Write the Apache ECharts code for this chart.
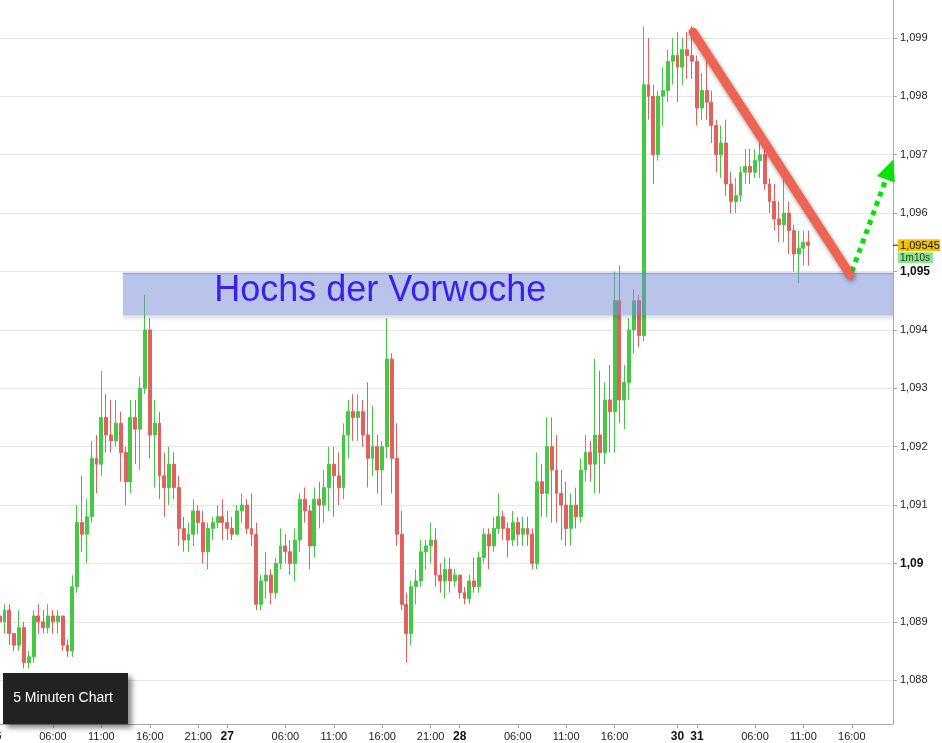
<!DOCTYPE html>
<html>
<head>
<meta charset="utf-8">
<script src="https://cdn.jsdelivr.net/npm/echarts@6/dist/echarts.min.js"></script>
<style>
html,body{margin:0;padding:0;background:#ffffff;}
#chart{width:942px;height:743px;}
</style>
</head>
<body>
<div id="chart"></div>
<script>
// 30-minute candles [open, close, low, high]
const day26 = [
[1.0890,1.0891,1.0888,1.0893],[1.0891,1.0890,1.0888,1.0893],[1.0890,1.0892,1.0888,1.0893],[1.0892,1.0888,1.0886,1.0893],
[1.0888,1.0886,1.0885,1.0888],[1.0886,1.0889,1.0885,1.0892],[1.0889,1.0883,1.0882,1.0890],[1.0883,1.0884,1.0882,1.0885],
[1.0884,1.0891,1.0883,1.0892],[1.0891,1.0890,1.0888,1.0893],[1.0890,1.0889,1.0888,1.0892],[1.0889,1.0891,1.0888,1.0893],
[1.0891,1.0890,1.0888,1.0892],[1.0890,1.0891,1.0888,1.0892],[1.0891,1.0886,1.0885,1.0891],[1.0886,1.0885,1.0884,1.0887],
[1.0885,1.0896,1.0884,1.0898],[1.0896,1.0907,1.0895,1.0910],[1.0907,1.0905,1.0902,1.0915],[1.0905,1.0908,1.0900,1.0911],
[1.0908,1.0918,1.0907,1.0921],[1.0918,1.0917,1.0912,1.0922],[1.0917,1.0925,1.0915,1.0933],[1.0925,1.0922,1.0919,1.0929],
[1.0922,1.0921,1.0919,1.0928],[1.0921,1.0924,1.0920,1.0928],[1.0924,1.0919,1.0914,1.0926],[1.0919,1.0914,1.0910,1.0920],
[1.0914,1.0925,1.0912,1.0928],[1.0925,1.0923,1.0917,1.0928],[1.0923,1.0930,1.0916,1.0932],[1.0930,1.0940,1.0929,1.0946],
[1.0940,1.0922,1.0918,1.0942],[1.0922,1.0924,1.0913,1.0928],[1.0924,1.0915,1.0911,1.0926],[1.0915,1.0913,1.0908,1.0919],
[1.0913,1.0917,1.0910,1.0920],[1.0917,1.0913,1.0911,1.0919],[1.0913,1.0906,1.0903,1.0915],[1.0906,1.0904,1.0902,1.0908],
[1.0904,1.0905,1.0902,1.0907],[1.0905,1.0909,1.0903,1.0911],[1.0909,1.0907,1.0905,1.0910],[1.0907,1.0902,1.0900,1.0909],
[1.0902,1.0906,1.0899,1.0907],[1.0906,1.0907,1.0904,1.0908],[1.0907,1.0908,1.0906,1.0910],[1.0908,1.0907,1.0904,1.0911]
];
const day27 = [
[1.0907,1.0906,1.0904,1.0909],[1.0906,1.0905,1.0904,1.0908],[1.0905,1.0909,1.0905,1.0910],[1.0909,1.0910,1.0907,1.0912],
[1.0910,1.0906,1.0905,1.0911],[1.0906,1.0905,1.0903,1.0912],[1.0905,1.0893,1.0892,1.0907],[1.0893,1.0897,1.0892,1.0898],
[1.0897,1.0898,1.0894,1.0902],[1.0898,1.0895,1.0893,1.0899],[1.0895,1.0900,1.0894,1.0901],[1.0900,1.0903,1.0899,1.0906],
[1.0903,1.0902,1.0900,1.0905],[1.0902,1.0900,1.0898,1.0904],[1.0900,1.0904,1.0897,1.0906],[1.0904,1.0911,1.0902,1.0912],
[1.0911,1.0909,1.0907,1.0913],[1.0909,1.0903,1.0899,1.0910],[1.0903,1.0911,1.0901,1.0913],[1.0911,1.0910,1.0906,1.0914],
[1.0910,1.0913,1.0907,1.0916],[1.0913,1.0917,1.0909,1.0920],[1.0917,1.0915,1.0908,1.0920],[1.0915,1.0913,1.0910,1.0919],
[1.0913,1.0922,1.0911,1.0924],[1.0922,1.0926,1.0918,1.0928],[1.0926,1.0925,1.0921,1.0929],[1.0925,1.0926,1.0921,1.0929],
[1.0926,1.0922,1.0920,1.0928],[1.0922,1.0918,1.0913,1.0931],[1.0918,1.0920,1.0915,1.0927],[1.0920,1.0916,1.0912,1.0922],
[1.0916,1.0920,1.0910,1.0921],[1.0920,1.0935,1.0918,1.0942],[1.0935,1.0918,1.0912,1.0936],[1.0918,1.0905,1.0903,1.0924],
[1.0905,1.0893,1.0892,1.0909],[1.0893,1.0888,1.0883,1.0895],[1.0888,1.0896,1.0886,1.0897],[1.0896,1.0897,1.0893,1.0899],
[1.0897,1.0902,1.0896,1.0904],[1.0902,1.0903,1.0899,1.0904],[1.0903,1.0904,1.0900,1.0907],[1.0904,1.0898,1.0896,1.0906],
[1.0898,1.0897,1.0895,1.0900],[1.0897,1.0899,1.0894,1.0901],[1.0899,1.0897,1.0895,1.0901],[1.0897,1.0898,1.0896,1.0899]
];
const day28 = [
[1.0898,1.0895,1.0894,1.0898],[1.0895,1.0894,1.0893,1.0896],[1.0894,1.0897,1.0893,1.0898],[1.0897,1.0896,1.0895,1.0901],
[1.0896,1.0901,1.0895,1.0902],[1.0901,1.0905,1.0900,1.0906],[1.0905,1.0903,1.0899,1.0906],[1.0903,1.0906,1.0902,1.0908],
[1.0906,1.0908,1.0905,1.0912],[1.0908,1.0906,1.0904,1.0909],[1.0906,1.0904,1.0901,1.0907],[1.0904,1.0907,1.0903,1.0909],
[1.0907,1.0905,1.0903,1.0908],[1.0905,1.0906,1.0903,1.0908],[1.0906,1.0905,1.0903,1.0908],[1.0905,1.0900,1.0899,1.0906],
[1.0900,1.0914,1.0899,1.0919],[1.0914,1.0912,1.0908,1.0917],[1.0912,1.0920,1.0908,1.0925],[1.0920,1.0916,1.0907,1.0925],
[1.0916,1.0912,1.0907,1.0922],[1.0912,1.0910,1.0904,1.0916],[1.0910,1.0906,1.0903,1.0914],[1.0906,1.0910,1.0903,1.0912],
[1.0910,1.0908,1.0906,1.0913],[1.0908,1.0916,1.0907,1.0918],[1.0916,1.0919,1.0914,1.0922],[1.0919,1.0917,1.0914,1.0921],
[1.0917,1.0922,1.0912,1.0935],[1.0922,1.0919,1.0912,1.0933],[1.0919,1.0928,1.0917,1.0931],[1.0928,1.0926,1.0919,1.0934],
[1.0926,1.0945,1.0919,1.0950],[1.0945,1.0928,1.0924,1.0951],[1.0928,1.0931,1.0923,1.0934],[1.0931,1.0940,1.0928,1.0942],
[1.0940,1.0945,1.0936,1.0947],[1.0945,1.0939,1.0937,1.0946],[1.0939,1.0982,1.0938,1.0992],[1.0982,1.0980,1.0976,1.0990],
[1.0980,1.0970,1.0965,1.0982],[1.0970,1.0980,1.0969,1.0981],[1.0980,1.0981,1.0975,1.0985],[1.0981,1.0986,1.0979,1.0988],
[1.0986,1.0987,1.0982,1.0990]
];
const day30to31 = [
[1.0987,1.0985,1.0979,1.0991],[1.0985,1.0988,1.0982,1.0990],[1.0988,1.0987,1.0983,1.0991],[1.0987,1.0986,1.0983,1.0992],
[1.0986,1.0978,1.0975,1.0987],[1.0978,1.0981,1.0976,1.0984],[1.0981,1.0979,1.0976,1.0986],[1.0979,1.0975,1.0972,1.0981],
[1.0975,1.0970,1.0967,1.0976],[1.0970,1.0972,1.0966,1.0975],[1.0972,1.0965,1.0963,1.0976],[1.0965,1.0962,1.0960,1.0967],
[1.0962,1.0963,1.0960,1.0966],[1.0963,1.0967,1.0962,1.0968],[1.0967,1.0968,1.0965,1.0971],[1.0968,1.0967,1.0965,1.0971],
[1.0967,1.0969,1.0966,1.0971],[1.0969,1.0970,1.0966,1.0972],[1.0970,1.0965,1.0964,1.0971],[1.0965,1.0962,1.0960,1.0966],
[1.0962,1.0959,1.0957,1.0965],[1.0959,1.0958,1.0955,1.0962],[1.0958,1.0960,1.0955,1.0966],[1.0960,1.0957,1.0953,1.0962],
[1.0957,1.0953,1.0950,1.0958],[1.0953,1.0954,1.0948,1.0957],[1.0954,1.0955,1.0951,1.0957],[1.0955,1.09545,1.0951,1.0957]
];

const yTickValues = [1.088, 1.089, 1.09, 1.091, 1.092, 1.093, 1.094, 1.095, 1.096, 1.097, 1.098, 1.099];
const yBoldValues = [1.09, 1.095];
const xTickLabels = ['26 00:00','26 06:00','26 11:00','26 16:00','26 21:00','27 00:00','27 06:00','27 11:00','27 16:00','27 21:00',
  '28 00:00','28 06:00','28 11:00','28 16:00','30 22:00','31 00:00','31 06:00','31 11:00','31 16:00'];
const xDayStarts = ['26 00:00','27 00:00','28 00:00','30 22:00','31 00:00'];

// annotations (x in slot index units, y in price)
const bandLevels = [1.09498, 1.09425];
const bandStartSlot = 26.45;
const bandLabel = 'Hochs der Vorwoche';
const bandLabelPos = [45.3, 1.09467];
const trendLine = [[144.2, 1.0991], [176.6, 1.09495]];
const targetArrow = [[177.0, 1.0950], [184.8, 1.09675]];
const timerText = '1m10s';
const chartTitle = '5 Minuten Chart';

const candles = day26.concat(day27, day28, day30to31);

function hhmm(m) {
  const h = Math.floor(m / 60), mm = m % 60;
  return String(h).padStart(2, '0') + ':' + String(mm).padStart(2, '0');
}
// time slots: 26th 00:00 .. 28th 22:00, then 30th 22:00 .. 31st 20:00 (30-minute slots)
const categories = [];
for (let k = 0; k < 141; k++) categories.push((26 + Math.floor(k / 48)) + ' ' + hhmm((k % 48) * 30));
for (let k = 0; k < 45; k++) {
  const m = 22 * 60 + k * 30;
  categories.push((30 + Math.floor(m / 1440)) + ' ' + hhmm(m % 1440));
}
const nSlots = categories.length;

const green = '#44c944';
const red = '#e4605c';
const fontFam = '"Liberation Sans", Arial, Helvetica, sans-serif';

function fmtPrice(v) {
  return String(Number(Number(v).toFixed(5))).replace('.', ',');
}

const chart = echarts.init(document.getElementById('chart'), null, { renderer: 'canvas' });

const option = {
  animation: false,
  backgroundColor: '#ffffff',
  grid: { left: -7.56, right: 49, top: 0, bottom: 19, containLabel: false, outerBoundsMode: 'none' },
  xAxis: [
    {
      type: 'category',
      data: categories,
      boundaryGap: true,
      axisLine: { show: true, onZero: false, lineStyle: { color: '#a8a8a8', width: 1 } },
      axisTick: {
        show: true, alignWithLabel: true, length: 4,
        interval: (i, v) => xTickLabels.includes(v),
        lineStyle: { color: '#a8a8a8' }
      },
      axisLabel: {
        interval: (i, v) => xTickLabels.includes(v),
        margin: 7,
        color: '#222',
        fontSize: 11,
        fontFamily: fontFam,
        hideOverlap: false,
        formatter: (v) => {
          const parts = v.split(' ');
          if (xDayStarts.includes(v)) return '{b|' + parts[0] + '}';
          return parts[1];
        },
        rich: { b: { fontWeight: 'bold', fontSize: 12, fontFamily: fontFam, color: '#111' } }
      },
      splitLine: { show: false }
    },
    {
      type: 'value',
      min: -0.5,
      max: nSlots - 0.5,
      show: false,
      axisLine: { show: false, onZero: false },
      splitLine: { show: false }
    }
  ],
  yAxis: {
    type: 'value',
    position: 'right',
    min: 1.08725,
    max: 1.09965,
    scale: true,
    axisLine: { show: true, onZero: false, lineStyle: { color: '#a8a8a8', width: 1 } },
    axisTick: { show: true, length: 4, customValues: yTickValues, lineStyle: { color: '#a8a8a8' } },
    axisLabel: {
      customValues: yTickValues,
      margin: 7,
      color: '#222',
      fontSize: 11,
      fontFamily: fontFam,
      formatter: (v) => {
        const s = fmtPrice(v);
        return yBoldValues.some(b => Math.abs(b - v) < 1e-9) ? '{b|' + s + '}' : s;
      },
      rich: { b: { fontWeight: 'bold', fontSize: 12, fontFamily: fontFam, color: '#111' } }
    },
    splitLine: { show: true, lineStyle: { color: '#e6e6e6', width: 1 } }
  },
  series: [
    {
      type: 'candlestick',
      name: 'Kurs',
      data: candles,
      barWidth: '70%',
      z: 2,
      itemStyle: {
        color: green, color0: red,
        borderColor: green, borderColor0: red, borderColorDoji: red,
        borderWidth: 1
      }
    },
    {
      type: 'custom',
      name: 'band',
      xAxisIndex: 1,
      yAxisIndex: 0,
      silent: true,
      z: 4,
      data: [[bandStartSlot, bandLevels[0], bandLevels[1]]],
      renderItem: function (params, api) {
        const tl = api.coord([api.value(0), api.value(1)]);
        const bl = api.coord([api.value(0), api.value(2)]);
        const cs = params.coordSys;
        const right = cs.x + cs.width;
        const tp = api.coord(bandLabelPos);
        return {
          type: 'group',
          children: [
            { type: 'rect', shape: { x: tl[0], y: bl[1], width: right - tl[0], height: 6 },
              style: { fill: new echarts.graphic.LinearGradient(0, 0, 0, 1, [
                { offset: 0, color: 'rgba(0,0,0,0.13)' }, { offset: 1, color: 'rgba(0,0,0,0)' }]) } },
            { type: 'rect', shape: { x: tl[0], y: tl[1], width: right - tl[0], height: bl[1] - tl[1] },
              style: { fill: 'rgba(118,136,214,0.5)' } },
            { type: 'rect', shape: { x: tl[0], y: tl[1], width: right - tl[0], height: 1.5 },
              style: { fill: 'rgba(110,125,205,0.45)' } },
            { type: 'text', x: tp[0], y: tp[1],
              style: { text: bandLabel, fill: '#3a20ee', font: '36px ' + fontFam, align: 'left', verticalAlign: 'middle' } }
          ]
        };
      }
    },
    {
      type: 'line',
      name: 'trend',
      xAxisIndex: 1,
      yAxisIndex: 0,
      silent: true,
      z: 6,
      data: trendLine,
      symbol: 'none',
      lineStyle: {
        color: '#ef6353', width: 9, cap: 'round',
        shadowBlur: 4, shadowColor: 'rgba(0,0,0,0.45)', shadowOffsetX: 1, shadowOffsetY: 2
      },
      markLine: {
        silent: true,
        symbol: ['none', 'triangle'],
        symbolSize: [19, 21],
        label: { show: false },
        lineStyle: { color: '#00e400', width: 5, type: [5, 5], cap: 'butt' },
        itemStyle: { color: '#00e400' },
        data: [[{ coord: targetArrow[0] }, { coord: targetArrow[1] }]]
      },
      markPoint: {
        silent: true,
        symbol: 'circle',
        symbolSize: 8,
        label: { show: false },
        itemStyle: { color: '#3e4a68' },
        data: [{ coord: trendLine[1] }]
      }
    }
  ]
};
chart.setOption(option);

// current price tag + timer on the right axis
const lastClose = candles[candles.length - 1][1];
const yTag = chart.convertToPixel({ yAxisIndex: 0 }, lastClose);
const axisX = chart.convertToPixel({ xAxisIndex: 1 }, nSlots - 0.5);
chart.setOption({
  graphic: [
    { type: 'line', z: 100, shape: { x1: axisX, y1: yTag, x2: axisX + 5, y2: yTag }, style: { stroke: '#222', lineWidth: 1 } },
    { type: 'rect', z: 100, shape: { x: axisX + 5, y: yTag - 6, width: 42, height: 12 }, style: { fill: '#f2c300' } },
    { type: 'text', z: 101, x: axisX + 7, y: yTag + 0.5, style: { text: fmtPrice(lastClose), fill: '#111', font: '11px ' + fontFam, verticalAlign: 'middle' } },
    { type: 'rect', z: 100, shape: { x: axisX + 5, y: yTag + 7, width: 35, height: 11 }, style: { fill: '#8fe28f' } },
    { type: 'text', z: 101, x: axisX + 7, y: yTag + 13, style: { text: timerText, fill: '#1a3a1a', font: '10px ' + fontFam, verticalAlign: 'middle' } },
    { type: 'rect', z: 100, left: 3, top: 673, shape: { width: 125, height: 51 },
      style: { fill: '#222222', shadowBlur: 5, shadowOffsetX: 4, shadowOffsetY: 4, shadowColor: 'rgba(0,0,0,0.45)' } },
    { type: 'text', z: 101, x: 63, y: 698.5, style: { text: chartTitle, fill: '#ffffff', font: '14px ' + fontFam, align: 'center', verticalAlign: 'middle' } }
  ]
});
</script>
</body>
</html>
